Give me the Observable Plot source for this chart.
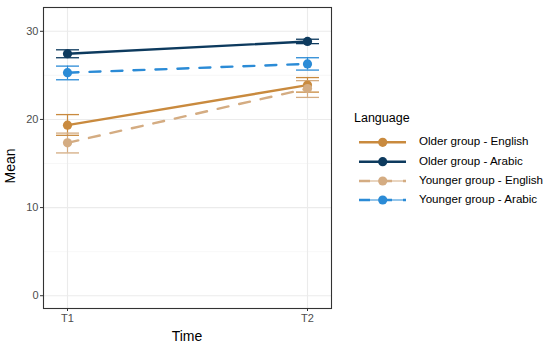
<!DOCTYPE html>
<html>
<head>
<meta charset="utf-8">
<script src="https://cdn.jsdelivr.net/npm/d3@7"></script>
<script src="https://cdn.jsdelivr.net/npm/@observablehq/plot@0.6"></script>
<style>
  body { margin: 0; background: #fff; font-family: "Liberation Sans", Arial, sans-serif; }
  #wrap { position: relative; width: 550px; height: 348px; }
</style>
</head>
<body>
<div id="wrap"></div>
<script>
// ---- data ----
const groups = ["Older group - English", "Older group - Arabic", "Younger group - English", "Younger group - Arabic"];
const colors = ["#c98a3e", "#0d3a5e", "#d4ac82", "#2b8bd6"];
const dashed = [false, false, true, true];
const times = ["T1", "T2"];
const means = [[19.35, 23.9], [27.45, 28.85], [17.35, 23.5], [25.3, 26.3]];
const lows  = [[18.2, 23.1], [27.0, 28.6], [16.2, 22.5], [24.5, 25.6]];
const highs = [[20.55, 24.75], [27.9, 29.1], [18.45, 24.4], [26.05, 27.0]];
const yTicks = [0, 10, 20, 30];
const yMinor = [5, 15, 25];

const rows = [];
groups.forEach((g, i) => times.forEach((t, j) => rows.push({
  group: g, time: t, mean: means[i][j], lo: lows[i][j], hi: highs[i][j], dashed: dashed[i]
})));

const capSymbol = {
  draw(ctx, size) {
    const w = Math.sqrt(size / Math.PI);
    ctx.moveTo(-w, 0); ctx.lineTo(w, 0);
  }
};

const colorScale = {domain: groups, range: colors};

const marks = [
  Plot.ruleY(yMinor, {stroke: "#f3f3f3", strokeWidth: 0.7}),
  Plot.ruleY(yTicks, {stroke: "#ebebeb", strokeWidth: 1.1}),
  Plot.ruleX(times, {stroke: "#ebebeb", strokeWidth: 1.1}),
  Plot.ruleX(rows, {x: "time", y1: "lo", y2: "hi", stroke: "group", strokeWidth: 1.2}),
  Plot.dot(rows, {x: "time", y: "lo", stroke: "group", symbol: capSymbol, r: 11.5, strokeWidth: 1.3}),
  Plot.dot(rows, {x: "time", y: "hi", stroke: "group", symbol: capSymbol, r: 11.5, strokeWidth: 1.3}),
];
groups.forEach((g, i) => {
  marks.push(Plot.line(rows.filter(d => d.group === g), {
    x: "time", y: "mean", stroke: "group", strokeWidth: 2.4,
    strokeDasharray: dashed[i] ? "11,11" : null
  }));
});
marks.push(Plot.dot(rows, {x: "time", y: "mean", fill: "group", r: 4.6}));
marks.push(Plot.frame({stroke: "#333", strokeWidth: 1.1}));
marks.push(Plot.axisY(yTicks, {tickSize: 3, tickPadding: 2, fontSize: 11, fill: "#4d4d4d", stroke: "#333", label: null}));
marks.push(Plot.axisX(times, {tickSize: 3, tickPadding: 3, fontSize: 11, fill: "#4d4d4d", stroke: "#333", label: null}));

const chart = Plot.plot({
  width: 550, height: 348,
  marginLeft: 43, marginRight: 219, marginTop: 7, marginBottom: 40,
  style: {fontFamily: "Liberation Sans, Arial, sans-serif", background: "#fff", overflow: "visible"},
  x: {type: "point", domain: times, padding: 0.1},
  y: {domain: [-1.45, 32.7]},
  color: colorScale,
  marks
});
const wrap = document.getElementById("wrap");
wrap.appendChild(chart);

// axis titles
const svg = d3.select(chart);
svg.append("text").attr("x", 187).attr("y", 337).attr("text-anchor", "middle")
  .attr("dominant-baseline", "middle").attr("font-size", 14).attr("fill", "#000").text("Time");
svg.append("text").attr("transform", "translate(11,166) rotate(-90)").attr("text-anchor", "middle")
  .attr("dominant-baseline", "middle").attr("font-size", 14).attr("fill", "#000").text("Mean");

// legend
const lg = svg.append("g").attr("text-anchor", "start");
lg.append("text").attr("x", 354).attr("y", 119).attr("dominant-baseline", "middle")
  .attr("font-size", 12.5).attr("fill", "#000").text("Language");
const keyY = [142.3, 161.7, 181, 200];
groups.forEach((g, i) => {
  const y = keyY[i];
  lg.append("line").attr("x1", 359).attr("x2", 406).attr("y1", y).attr("y2", y)
    .attr("stroke", colors[i]).attr("stroke-width", 1.2);
  lg.append("line").attr("x1", 359).attr("x2", 406).attr("y1", y).attr("y2", y)
    .attr("stroke", colors[i]).attr("stroke-width", 2.4)
    .attr("stroke-dasharray", dashed[i] ? "11,11" : null);
  lg.append("circle").attr("cx", 382.7).attr("cy", y).attr("r", 4.6).attr("fill", colors[i]);
  lg.append("text").attr("x", 419).attr("y", y).attr("dominant-baseline", "middle")
    .attr("font-size", 11.6).attr("fill", "#000").text(g);
});
</script>
</body>
</html>
